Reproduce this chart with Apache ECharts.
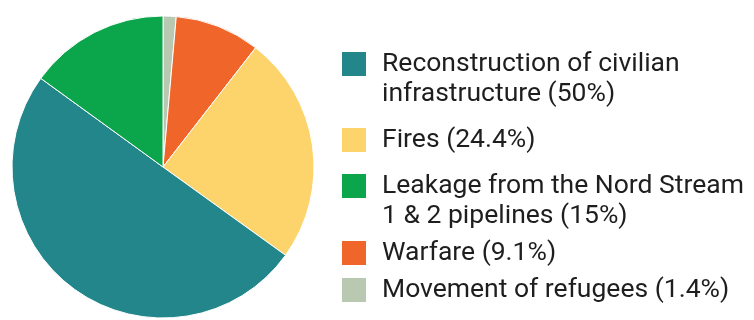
<!DOCTYPE html>
<html>
<head>
<meta charset="utf-8">
<script src="https://cdn.jsdelivr.net/npm/echarts@6/dist/echarts.min.js"></script>
<style>
  html, body { margin: 0; padding: 0; background: #ffffff; }
  #chart { width: 754px; height: 320px; }
</style>
</head>
<body>
<div id="chart"></div>
<script>
// Slice order (clockwise from 12 o'clock)
const categories = [
  'Movement of refugees',
  'Warfare',
  'Fires',
  'Reconstruction of civilian infrastructure',
  'Leakage from the Nord Stream 1 & 2 pipelines'
];
const values = [1.4, 9.1, 24.4, 50, 15];
const colors = ['#b9c9b1', '#f0652a', '#fdd46c', '#23868a', '#0ba64b'];

// Legend order and wrapped legend labels
const legendOrder = [
  'Reconstruction of civilian infrastructure',
  'Fires',
  'Leakage from the Nord Stream 1 & 2 pipelines',
  'Warfare',
  'Movement of refugees'
];
const legendLabels = [
  'Reconstruction of civilian\ninfrastructure (50%)',
  'Fires (24.4%)',
  'Leakage from the Nord Stream\n1 & 2 pipelines (15%)',
  'Warfare (9.1%)',
  'Movement of refugees (1.4%)'
];

const iconTops = [51, 127, 173, 240, 277];
const ICON = 26, LINE = 30;

const legends = legendOrder.map((name, i) => {
  const twoLine = legendLabels[i].indexOf('\n') >= 0;
  const off = twoLine ? (3 * LINE - ICON) / 2 : (LINE - ICON) / 2;
  return {
    orient: 'vertical',
    left: 340,
    top: iconTops[i] - off,
    padding: 0,
    itemWidth: ICON,
    itemHeight: ICON,
    icon: 'rect',
    selectedMode: false,
    data: [name],
    // a leading blank line keeps the icon level with the first text line
    formatter: () => (twoLine ? '\u00a0\n' : '') + legendLabels[i],
    textStyle: {
      fontFamily: 'Roboto',
      fontSize: 26.5,
      color: '#1e1e1e',
      lineHeight: LINE,
      padding: [0, 0, 0, 10]
    }
  };
});

const chart = echarts.init(document.getElementById('chart'), null, { renderer: 'canvas' });
chart.setOption({
  backgroundColor: '#ffffff',
  animation: false,
  legend: legends,
  series: [{
    type: 'pie',
    center: [163, 167],
    radius: [0, 151],
    startAngle: 90,
    clockwise: true,
    label: { show: false },
    labelLine: { show: false },
    emphasis: { disabled: true },
    itemStyle: { borderColor: '#ffffff', borderWidth: 1 },
    data: categories.map((c, i) => ({ name: c, value: values[i], itemStyle: { color: colors[i] } }))
  }]
});
</script>
</body>
</html>
